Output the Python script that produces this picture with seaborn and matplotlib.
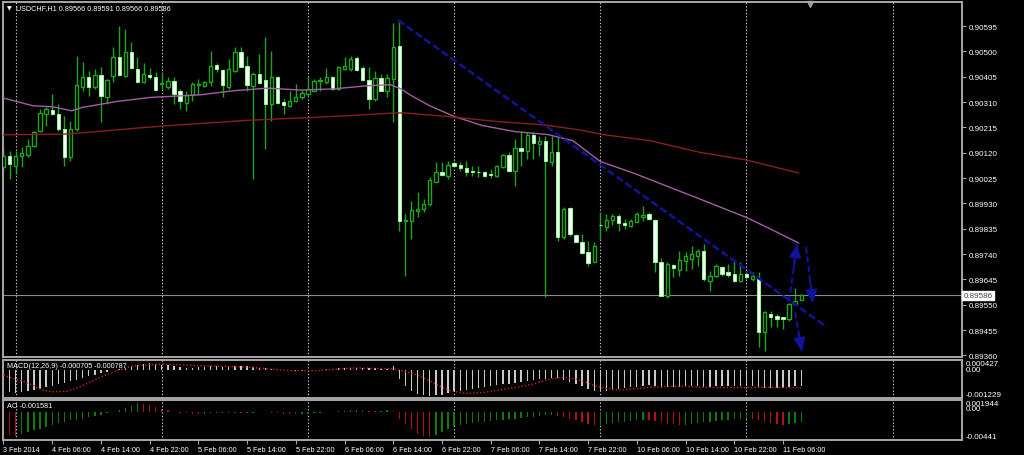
import numpy as np
import pandas as pd
import seaborn as sns
import matplotlib.pyplot as plt
from matplotlib import transforms

# === USDCHF, H1 ===
date_ticks = [0, 8, 16, 24, 32, 40, 48, 56, 64, 72, 80, 88, 96, 104, 112, 120, 128]
date_labels = ["3 Feb 2014", "4 Feb 06:00", "4 Feb 14:00", "4 Feb 22:00", "5 Feb 06:00",
               "5 Feb 14:00", "5 Feb 22:00", "6 Feb 06:00", "6 Feb 14:00", "6 Feb 22:00",
               "7 Feb 06:00", "7 Feb 14:00", "7 Feb 22:00", "10 Feb 06:00", "10 Feb 14:00",
               "10 Feb 22:00", "11 Feb 06:00"]
day_starts = [2, 26, 50, 74, 98, 122, 146]   # bar index of 00:00, dotted grid

price_levels = [0.90595, 0.90500, 0.90405, 0.90310, 0.90215, 0.90120, 0.90025, 0.89930,
                0.89835, 0.89740, 0.89645, 0.89550, 0.89455, 0.89360]
bid = 0.89586

opens = [
    0.90066, 0.90109, 0.90071, 0.90108, 0.90112, 0.90146, 0.90200, 0.90265, 0.90281, 0.90265,
    0.90209, 0.90103, 0.90209, 0.90367, 0.90405, 0.90365, 0.90411, 0.90328, 0.90409, 0.90478,
    0.90409, 0.90496, 0.90434, 0.90384, 0.90411, 0.90403, 0.90378, 0.90365, 0.90390, 0.90352,
    0.90305, 0.90336, 0.90374, 0.90371, 0.90384, 0.90450, 0.90430, 0.90367, 0.90427, 0.90496,
    0.90446, 0.90371, 0.90415, 0.90393, 0.90303, 0.90405, 0.90309, 0.90296, 0.90313, 0.90328,
    0.90340, 0.90352, 0.90390, 0.90384, 0.90405, 0.90359, 0.90434, 0.90434, 0.90475, 0.90437,
    0.90393, 0.90321, 0.90400, 0.90350, 0.90396, 0.90519, 0.89865, 0.89865, 0.89902, 0.89909,
    0.89928, 0.90011, 0.90049, 0.90034, 0.90081, 0.90074, 0.90061, 0.90050, 0.90049, 0.90046,
    0.90040, 0.90034, 0.90065, 0.90111, 0.90052, 0.90136, 0.90127, 0.90186, 0.90152, 0.90165,
    0.90086, 0.90124, 0.89804, 0.89911, 0.89811, 0.89786, 0.89746, 0.89711, 0.89849, 0.89840,
    0.89869, 0.89884, 0.89856, 0.89846, 0.89861, 0.89878, 0.89890, 0.89869, 0.89709, 0.89584,
    0.89699, 0.89681, 0.89715, 0.89721, 0.89734, 0.89752, 0.89640, 0.89659, 0.89692, 0.89671,
    0.89665, 0.89640, 0.89665, 0.89646, 0.89646, 0.89446, 0.89515, 0.89506, 0.89503, 0.89496,
    0.89553, 0.89566]
highs = [
    0.90141, 0.90127, 0.90127, 0.90141, 0.90171, 0.90202, 0.90284, 0.90290, 0.90340, 0.90303,
    0.90259, 0.90240, 0.90484, 0.90459, 0.90427, 0.90434, 0.90440, 0.90396, 0.90515, 0.90596,
    0.90584, 0.90534, 0.90478, 0.90455, 0.90436, 0.90421, 0.90421, 0.90405, 0.90403, 0.90359,
    0.90352, 0.90384, 0.90396, 0.90390, 0.90502, 0.90455, 0.90434, 0.90471, 0.90515, 0.90515,
    0.90484, 0.90421, 0.90490, 0.90553, 0.90502, 0.90409, 0.90321, 0.90352, 0.90378, 0.90355,
    0.90403, 0.90396, 0.90403, 0.90437, 0.90409, 0.90446, 0.90478, 0.90484, 0.90484, 0.90446,
    0.90440, 0.90427, 0.90415, 0.90415, 0.90605, 0.90611, 0.89890, 0.89940, 0.89971, 0.89946,
    0.90028, 0.90084, 0.90086, 0.90090, 0.90090, 0.90084, 0.90090, 0.90071, 0.90071, 0.90052,
    0.90059, 0.90074, 0.90115, 0.90121, 0.90171, 0.90202, 0.90196, 0.90196, 0.90184, 0.90184,
    0.90184, 0.90184, 0.89915, 0.89915, 0.89815, 0.89815, 0.89790, 0.89784, 0.89898, 0.89890,
    0.89890, 0.89890, 0.89871, 0.89871, 0.89896, 0.89921, 0.89896, 0.89871, 0.89724, 0.89709,
    0.89703, 0.89752, 0.89746, 0.89771, 0.89759, 0.89778, 0.89677, 0.89703, 0.89696, 0.89703,
    0.89715, 0.89709, 0.89671, 0.89671, 0.89671, 0.89527, 0.89527, 0.89515, 0.89503, 0.89556,
    0.89614, 0.89591]
lows = [
    0.90048, 0.90021, 0.90040, 0.90066, 0.90104, 0.90140, 0.90196, 0.90221, 0.90262, 0.90202,
    0.90071, 0.90090, 0.90202, 0.90352, 0.90334, 0.90359, 0.90234, 0.90303, 0.90384, 0.90409,
    0.90403, 0.90434, 0.90384, 0.90380, 0.90396, 0.90352, 0.90359, 0.90359, 0.90303, 0.90284,
    0.90277, 0.90315, 0.90340, 0.90365, 0.90371, 0.90421, 0.90328, 0.90359, 0.90421, 0.90440,
    0.90352, 0.90021, 0.90378, 0.90134, 0.90240, 0.90303, 0.90265, 0.90290, 0.90309, 0.90321,
    0.90334, 0.90350, 0.90352, 0.90378, 0.90355, 0.90355, 0.90430, 0.90427, 0.90427, 0.90390,
    0.90284, 0.90315, 0.90350, 0.90328, 0.90234, 0.89827, 0.89659, 0.89796, 0.89878, 0.89896,
    0.89921, 0.90009, 0.90034, 0.90021, 0.90065, 0.90052, 0.90034, 0.90034, 0.90028, 0.90028,
    0.90024, 0.90028, 0.90061, 0.90049, 0.89996, 0.90071, 0.90096, 0.90096, 0.90109, 0.89579,
    0.90071, 0.89790, 0.89796, 0.89809, 0.89784, 0.89740, 0.89696, 0.89709, 0.89796, 0.89827,
    0.89849, 0.89827, 0.89834, 0.89840, 0.89859, 0.89865, 0.89869, 0.89671, 0.89581, 0.89574,
    0.89653, 0.89659, 0.89677, 0.89684, 0.89696, 0.89640, 0.89602, 0.89653, 0.89659, 0.89653,
    0.89634, 0.89634, 0.89646, 0.89640, 0.89390, 0.89377, 0.89465, 0.89465, 0.89459, 0.89490,
    0.89549, 0.89566]
closes = [
    0.90108, 0.90078, 0.90109, 0.90119, 0.90146, 0.90196, 0.90268, 0.90284, 0.90266, 0.90209,
    0.90105, 0.90209, 0.90374, 0.90405, 0.90365, 0.90412, 0.90334, 0.90393, 0.90478, 0.90411,
    0.90496, 0.90436, 0.90386, 0.90415, 0.90403, 0.90355, 0.90381, 0.90390, 0.90340, 0.90313,
    0.90336, 0.90378, 0.90375, 0.90384, 0.90446, 0.90434, 0.90374, 0.90434, 0.90496, 0.90442,
    0.90374, 0.90415, 0.90380, 0.90303, 0.90405, 0.90305, 0.90300, 0.90315, 0.90328, 0.90343,
    0.90359, 0.90390, 0.90393, 0.90405, 0.90359, 0.90440, 0.90446, 0.90471, 0.90430, 0.90393,
    0.90321, 0.90400, 0.90352, 0.90400, 0.90515, 0.89865, 0.89869, 0.89905, 0.89909, 0.89928,
    0.90019, 0.90049, 0.90036, 0.90074, 0.90071, 0.90061, 0.90049, 0.90046, 0.90047, 0.90031,
    0.90036, 0.90069, 0.90111, 0.90052, 0.90136, 0.90127, 0.90186, 0.90156, 0.90165, 0.90090,
    0.90124, 0.89803, 0.89909, 0.89815, 0.89786, 0.89744, 0.89706, 0.89771, 0.89848, 0.89869,
    0.89884, 0.89856, 0.89849, 0.89865, 0.89890, 0.89886, 0.89871, 0.89709, 0.89584, 0.89703,
    0.89686, 0.89719, 0.89734, 0.89740, 0.89752, 0.89646, 0.89659, 0.89696, 0.89665, 0.89661,
    0.89640, 0.89665, 0.89653, 0.89659, 0.89446, 0.89521, 0.89503, 0.89496, 0.89496, 0.89553,
    0.89565, 0.89586]

# moving averages (bar index, price)
ma_fast_idx = [0, 4.8, 8.1, 11.2, 13, 18.6, 24, 32.3, 37.7, 43.3, 48.7, 54.1, 59.7, 63.5, 65.1,
               67.2, 70, 74, 78.6, 84, 89.4, 93.5, 98, 103.4, 109, 114.4, 121.9, 125.4, 130.6]
ma_fast_val = [0.90325, 0.90296, 0.90292, 0.90277, 0.90290, 0.90312, 0.90327, 0.90337, 0.90352,
               0.90362, 0.90355, 0.90359, 0.90371, 0.90375, 0.90361, 0.90331, 0.90296, 0.90256,
               0.90222, 0.90199, 0.90188, 0.90165, 0.90087, 0.90044, 0.89994, 0.89946, 0.89878,
               0.89840, 0.89781]
ma_slow_idx = [0, 10.4, 15.8, 21.3, 26.8, 32.6, 40.5, 48.7, 56.9, 64.3, 66, 72.8, 81, 88.9,
               94.7, 98.4, 106.2, 114.4, 121.9, 130.6]
ma_slow_val = [0.90187, 0.90190, 0.90200, 0.90211, 0.90221, 0.90230, 0.90242, 0.90250, 0.90259,
               0.90269, 0.90269, 0.90256, 0.90237, 0.90224, 0.90205, 0.90188, 0.90165, 0.90121,
               0.90093, 0.90044]

trend_idx = [64.8, 135.2]
trend_val = [0.90617, 0.89466]
arrows = [((129.0, 0.89560), (130.3, 0.89777)),
          ((131.8, 0.89766), (132.9, 0.89556)),
          ((130.0, 0.89522), (131.1, 0.89376))]

# MACD(12,26,9) main histogram and signal, in units of 1e-4
macd_main = [
    -8.0, -9.6, -10.0, -9.6, -9.2, -8.8, -8.2, -7.6, -7.0, -6.3,
    -5.6, -5.0, -4.3, -3.5, -2.8, -2.1, -1.5, -0.9, -0.3, 0.3,
    0.9, 1.5, 2.2, 2.7, 2.9, 2.6, 2.3, 2.0, 1.6, 1.2,
    1.0, 1.0, 1.1, 1.2, 1.5, 1.6, 1.4, 1.5, 1.8, 1.8,
    1.5, 1.2, 1.0, 0.6, 0.5, 0.2, -0.1, -0.3, -0.4, -0.4,
    -0.3, -0.1, 0.1, 0.3, 0.3, 0.6, 0.8, 1.0, 1.0, 0.9,
    0.6, 0.6, 0.5, 0.5, 1.5, -4.0, -7.0, -9.2, -10.5, -11.2,
    -11.3, -11.2, -10.9, -10.3, -9.8, -9.3, -8.9, -8.5, -8.0, -7.6,
    -7.2, -6.8, -6.4, -6.0, -5.6, -5.2, -4.8, -4.3, -3.9, -3.8,
    -3.4, -3.6, -4.5, -5.3, -6.2, -7.0, -8.2, -9.1, -9.4, -9.2,
    -8.8, -8.4, -8.0, -7.6, -7.3, -7.0, -6.8, -7.2, -7.8, -7.6,
    -7.4, -7.3, -7.2, -7.0, -6.9, -7.3, -7.4, -7.2, -7.2, -7.1,
    -7.2, -7.1, -7.0, -6.9, -7.9, -8.1, -8.0, -7.9, -7.8, -7.4,
    -7.2, -7.05]
signal_idx = [0, 3.3, 6.5, 8, 10.5, 13, 15.8, 18.6, 21.3, 25.7, 32.3, 40.5, 47, 51.5, 56.9,
              64, 67.8, 70.5, 73.3, 75.8, 78.8, 81.5, 84.3, 87, 89.7, 91.9, 94.1, 96.3, 98.4,
              100.7, 103.4, 106.2, 108.9, 111.6, 114.4, 120, 125, 131]
signal_val = [-2.4, -5.0, -8.9, -9.6, -9.3, -6.9, -3.3, -0.4, 1.8, 2.5, 1.8, 1.1, -0.4, -0.4, 0.8,
              0.5, -2.1, -5.5, -9.1, -10.3, -9.9, -8.8, -7.6, -6.2, -4.0, -3.3, -4.0, -6.2, -7.9,
              -8.8, -8.4, -7.6, -7.3, -7.2, -7.6, -7.8, -7.6, -7.87]

# Awesome Oscillator, in units of 1e-4
ao = [
    -33, -36, -38, -35, -32, -29, -26, -23, -20, -17,
    -15, -13, -12, -10, -8, -6, -4, -2, 1, 4,
    7, 10, 14, 13, 11, 8, 5, 3, 1, -1,
    -2, -2.5, -3, -2.5, -2, -1.5, -1, -0.5, -1, -1.5,
    -1, -0.5, 0, 0.5, -0.5, -1.5, -2.5, -3, -3.5, -3,
    -2.5, -2, -1, 0, 1, 2, 2.5, 3, 3.5, 3,
    2.5, 2, 2.5, 3, 2, -10, -19, -27, -34, -38,
    -40, -36, -32, -27, -22, -20, -18, -17, -16, -15,
    -14, -13, -12, -11, -10, -9, -8, -7, -6, -5,
    -4, -6, -8, -10, -12, -15, -18, -21, -20, -19,
    -17, -16, -15, -14, -13, -12, -13, -14, -16, -18,
    -19, -21, -20, -19, -17, -16, -15, -14, -13, -12,
    -11.5, -11, -10, -11, -13, -15, -17, -19, -20, -19,
    -17.5, -15.81]

# === style ===
GREEN = "#1ea51e"
BEAR_EDGE = "#8cff8c"
FRAME = "#a8a8a8"
GRID = "#c8c8c8"
BLUE = "#12129c"
FS = 5.8      # axis labels
FS_S = 5.2    # date labels and window captions

sns.set_theme(style="dark", rc={"axes.facecolor": "black", "figure.facecolor": "black"})
plt.rcParams["font.family"] = ["Liberation Sans", "DejaVu Sans"]

W, H = 1024, 456
fig = plt.figure(figsize=(W / 100, H / 100), dpi=100, facecolor="black")


def px_axes(l, t, r, b):
    return fig.add_axes([l / W, 1 - b / H, (r - l) / W, (b - t) / H])


ax = px_axes(3, 3, 962, 358)
ax_macd = px_axes(3, 361, 962, 399)
ax_ao = px_axes(3, 401, 962, 441)

df = pd.DataFrame({"open": opens, "high": highs, "low": lows, "close": closes})
df["x"] = np.arange(len(df))
df["macd"] = np.array(macd_main) * 1e-4
df["ao"] = np.array(ao) * 1e-4
up = df[df.close >= df.open]
dn = df[df.close < df.open]

for a in (ax, ax_macd, ax_ao):
    a.set_facecolor("black")
    a.set_xlim(-0.08, 157.4)
    a.grid(False)
    for s in a.spines.values():
        s.set_color(FRAME)
        s.set_linewidth(1.4)
    for g in day_starts:
        a.axvline(g, color=GRID, lw=0.8, ls=(0, (1.2, 1.8)), zorder=1)

# --- price window ---
ax.set_ylim(0.89354, 0.90685)
ax.vlines(df.x, df.low, df.high, color=GREEN, lw=1, zorder=2)
ax.bar(up.x, np.maximum(up.close - up.open, 0.000025), bottom=up.open, width=0.55,
       facecolor="black", edgecolor=GREEN, lw=1, zorder=3)
ax.bar(dn.x, dn.open - dn.close, bottom=dn.close, width=0.55,
       facecolor="white", edgecolor=BEAR_EDGE, lw=0.7, zorder=3)

sns.lineplot(x=ma_fast_idx, y=ma_fast_val, ax=ax, color="#a35ea3", lw=1, zorder=4)
sns.lineplot(x=ma_slow_idx, y=ma_slow_val, ax=ax, color="#8a1e1e", lw=1, zorder=4)
ax.axhline(bid, color="#8a8a8a", lw=0.8, zorder=2)

ax.plot(trend_idx, trend_val, color=BLUE, lw=1.8, ls=(0, (3, 1.3)), zorder=5)
for (x0, y0), (x1, y1) in arrows:
    ax.plot([x0, x1], [y0, y1], color=BLUE, lw=1.5, ls=(0, (3, 1.5)), zorder=5)
    ax.annotate("", xy=(x1, y1), xytext=(x0 + 0.6 * (x1 - x0), y0 + 0.6 * (y1 - y0)),
                arrowprops=dict(arrowstyle="-|>,head_length=0.9,head_width=0.4", color=BLUE,
                                lw=1.2, shrinkA=0, shrinkB=0, mutation_scale=9), zorder=6)

ax.set_xticks([])
ax.set_xlabel("")
ax.set_ylabel("")
ax.yaxis.tick_right()
ax.set_yticks(price_levels)
ax.set_yticklabels([f"{p:.5f}" for p in price_levels])
ax.tick_params(axis="y", colors=FRAME, labelcolor="white", labelsize=FS, length=3,
               width=0.8, pad=2, right=True, left=False)
ax.text(1.0015, bid, f"{bid:.5f}", transform=transforms.blended_transform_factory(ax.transAxes, ax.transData),
        va="center", ha="left", fontsize=FS, color="#404040",
        bbox=dict(boxstyle="square,pad=0.12", fc="white", ec="white"))

# shift marker at the top
ax.plot([132.4], [0.995], marker="v", ms=4, color="#9a9a9a",
        transform=transforms.blended_transform_factory(ax.transData, ax.transAxes), clip_on=False)
fig.text(7 / W, 1 - 9 / H, "\u25bc", color="white", fontsize=4.5, va="center",
         family="DejaVu Sans")
fig.text(16 / W, 1 - 9 / H, "USDCHF,H1 0.89566 0.89591 0.89566 0.89586", color="white",
         fontsize=FS_S, va="center")

# --- MACD window ---
macd_lo, macd_hi = -0.001229, 0.000427
ax_macd.set_ylim(macd_lo, macd_hi)
ax_macd.bar(df.x, df.macd, width=0.22, color="#c8c8c8", lw=0, zorder=2)
ax_macd.plot(signal_idx, np.array(signal_val) * 1e-4, color="#d42020", lw=1.0,
             ls=(0, (1, 1.5)), zorder=3)
ax_macd.set_xticks([])
ax_macd.set_yticks([])
fig.text(7 / W, 1 - 366 / H, "MACD(12,26,9) -0.000705 -0.000787", color="white",
         fontsize=FS_S, va="center")
bt = transforms.blended_transform_factory(ax_macd.transAxes, ax_macd.transData)
ax_macd.text(1.0042, macd_hi, f"{macd_hi:.6f}", transform=bt, va="top", fontsize=FS, color="white")
ax_macd.text(1.0042, 0, "0.00", transform=bt, va="center", fontsize=FS, color="white")
ax_macd.text(1.0042, macd_lo, f"{macd_lo:.6f}", transform=bt, va="bottom", fontsize=FS, color="white")

# --- AO window (green when rising, red when falling) ---
ao_lo, ao_hi = -0.00441, 0.001944
ax_ao.set_ylim(ao_lo, ao_hi)
rising = df.ao.diff().fillna(-1) >= 0
ax_ao.bar(df.x, df.ao, width=0.22, color=np.where(rising, "#0c7d0c", "#b31212"), lw=0, zorder=2)
ax_ao.set_yticks([])
ax_ao.set_xticks(date_ticks)
ax_ao.set_xticklabels(date_labels, ha="left")
ax_ao.tick_params(axis="x", colors=FRAME, labelcolor="white", labelsize=FS_S, length=3,
                  width=0.8, pad=1.5, bottom=True)
fig.text(7 / W, 1 - 407 / H, "AO -0.001581", color="white", fontsize=FS_S, va="center")
bt = transforms.blended_transform_factory(ax_ao.transAxes, ax_ao.transData)
ax_ao.text(1.0042, ao_hi, f"{ao_hi:.6f}", transform=bt, va="top", fontsize=FS, color="white")
ax_ao.text(1.0042, 0, "0.00", transform=bt, va="bottom", fontsize=FS, color="white")
ax_ao.text(1.0042, ao_lo, f"{ao_lo:.5f}", transform=bt, va="bottom", fontsize=FS, color="white")

fig.savefig("out.png", dpi=100, facecolor="black")
